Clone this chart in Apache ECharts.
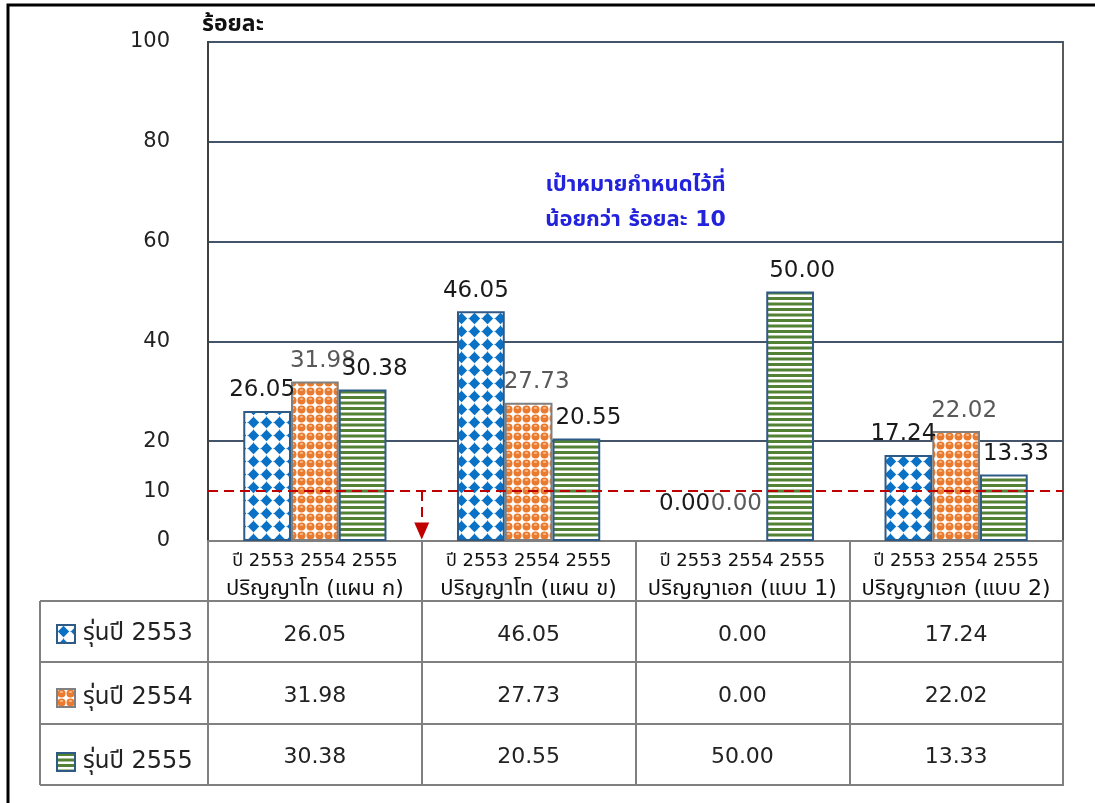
<!DOCTYPE html>
<html>
<head>
<meta charset="utf-8">
<title>ร้อยละ รุ่นปี 2553-2555</title>
<script src="https://cdn.jsdelivr.net/npm/echarts@6.0.0/dist/echarts.min.js"></script>
<style>
  html, body { margin: 0; padding: 0; background: #ffffff; overflow: hidden; }
  #chart { width: 1095px; height: 803px; }
</style>
</head>
<body>
<div id="chart"></div>
<script>
// ---- data ----
const categories = ['ปริญญาโท (แผน ก)', 'ปริญญาโท (แผน ข)', 'ปริญญาเอก (แบบ 1)', 'ปริญญาเอก (แบบ 2)'];
const yearLine = 'ปี 2553 2554 2555';
const seriesNames = ['รุ่นปี 2553', 'รุ่นปี 2554', 'รุ่นปี 2555'];
const values2553 = [26.05, 46.05, 0.00, 17.24];
const values2554 = [31.98, 27.73, 0.00, 22.02];
const values2555 = [30.38, 20.55, 50.00, 13.33];
const yTickLabels = [0, 10, 20, 40, 60, 80, 100];
const targetValue = 10;
const targetNote = ['เป้าหมายกำหนดไว้ที่', 'น้อยกว่า ร้อยละ 10'];
const yAxisTitle = 'ร้อยละ';

// ---- layout ----
const W = 1095, H = 803;
const gridLeft = 208, gridRight = 1063, gridTop = 42, gridBottom = 541;
const headerH = 60, rowH = 61.3;
const tableLeft = 40;
const FONT = "'DejaVu Sans', 'Noto Sans Thai', sans-serif";

// ---- fill patterns ----
function makeTile(w, h, draw) {
  const c = document.createElement('canvas');
  c.width = w; c.height = h;
  const g = c.getContext('2d');
  g.fillStyle = '#ffffff';
  g.fillRect(0, 0, w, h);
  draw(g, w, h);
  return c;
}
const diamondTile = makeTile(13, 13, (g) => {
  g.fillStyle = '#0a72c6';
  g.beginPath();
  g.moveTo(6.5, 0.8);
  g.lineTo(12.2, 6.5);
  g.lineTo(6.5, 12.2);
  g.lineTo(0.8, 6.5);
  g.closePath();
  g.fill();
  g.fillStyle = 'rgba(10,114,198,0.45)';
  g.fillRect(0, 6, 1, 1);
  g.fillRect(6, 0, 1, 1);
});
const ballTile = makeTile(9, 9, (g) => {
  g.fillStyle = '#ea7a2e';
  g.beginPath(); g.arc(4.5, 4.5, 4.0, 0, Math.PI * 2); g.fill();
  g.fillStyle = '#f7b98a';
  g.beginPath(); g.ellipse(4.5, 3.0, 1.8, 1.1, 0, 0, Math.PI * 2); g.fill();
});
const stripeTile = makeTile(4, 11, (g) => {
  g.fillStyle = '#548235';
  g.fillRect(0, 0, 4, 3);
  g.fillRect(0, 5.5, 4, 3);
});
const fills = [
  { image: diamondTile, repeat: 'repeat' },
  { image: ballTile, repeat: 'repeat' },
  { image: stripeTile, repeat: 'repeat' }
];
const borders = ['#2e5a86', '#808080', '#2e5a86'];
const labelColors = ['#1a1a1a', '#595959', '#1a1a1a'];
const labelShift = [-5, 8, 12];
const zeroLabelShift = [-10, -6, 0];
const seriesValues = [values2553, values2554, values2555];

const barSeries = seriesValues.map((vals, i) => ({
  name: seriesNames[i],
  type: 'bar',
  xAxisIndex: 0,
  yAxisIndex: 0,
  barGap: '0%',
  barCategoryGap: '33%',
  data: vals.map(v => v === 0
    ? { value: v, itemStyle: { borderWidth: 0 }, label: { offset: [zeroLabelShift[i], -16] } }
    : v),
  itemStyle: { color: fills[i], borderColor: borders[i], borderWidth: 2 },
  label: {
    show: true,
    position: 'top',
    distance: 9,
    offset: [labelShift[i], 0],
    fontFamily: FONT,
    fontSize: 23,
    color: labelColors[i],
    formatter: p => p.value.toFixed(2)
  },
  z: 3
}));

// table rows below the category axis: one line-less axis per series
const rowAxes = seriesValues.map((vals, i) => ({
  type: 'category',
  gridIndex: 0,
  position: 'bottom',
  offset: headerH + 22 + rowH * i,
  data: vals.map(v => v.toFixed(2)),
  axisLine: { show: false },
  axisTick: { show: false },
  axisLabel: {
    interval: 0, margin: 0, lineHeight: 24,
    fontFamily: FONT, fontSize: 22, color: '#222'
  }
}));

const tableLines = [];
for (let r = 0; r <= 3; r++) {
  const y = Math.round(gridBottom + headerH + rowH * r);
  tableLines.push({
    type: 'line',
    shape: { x1: tableLeft, y1: y, x2: gridRight + 1, y2: y },
    style: { stroke: '#808080', lineWidth: 2 }
  });
}
tableLines.push({
  type: 'line',
  shape: { x1: tableLeft, y1: gridBottom + headerH, x2: tableLeft, y2: Math.round(gridBottom + headerH + rowH * 3) },
  style: { stroke: '#808080', lineWidth: 2 }
});

const chart = echarts.init(document.getElementById('chart'), null, { renderer: 'canvas', width: W, height: H });

chart.setOption({
  animation: false,
  backgroundColor: '#ffffff',
  textStyle: { fontFamily: FONT },
  grid: {
    left: gridLeft, right: W - gridRight, top: gridTop, bottom: H - gridBottom,
    show: true, borderColor: '#595959', borderWidth: 2, containLabel: false
  },
  legend: {
    data: seriesNames,
    orient: 'vertical',
    left: 51,
    top: 617,
    icon: 'rect',
    itemWidth: 18,
    itemHeight: 18,
    itemGap: 40,
    selectedMode: false,
    textStyle: { fontFamily: FONT, fontSize: 24, color: '#222', lineHeight: 18, padding: [0, 0, 0, 3] }
  },
  xAxis: [
    {
      type: 'category',
      gridIndex: 0,
      data: categories,
      axisLine: { show: true, lineStyle: { color: '#808080', width: 2 } },
      axisTick: { show: true, alignWithLabel: false, length: Math.round(headerH + rowH * 3), lineStyle: { color: '#808080', width: 2 } },
      axisLabel: {
        interval: 0,
        margin: 7,
        formatter: v => '{a|' + yearLine + '}\n{b|' + v + '}',
        rich: {
          a: { fontFamily: FONT, fontSize: 18, lineHeight: 27, color: '#111' },
          b: { fontFamily: FONT, fontSize: 22, lineHeight: 29, color: '#111' }
        }
      }
    },
    ...rowAxes,
    { type: 'value', gridIndex: 0, min: 0, max: categories.length, show: false }
  ],
  yAxis: [
    {
      type: 'value',
      min: 0, max: 100, interval: 10,
      name: yAxisTitle,
      nameLocation: 'end',
      nameGap: 5,
      nameTextStyle: { fontFamily: FONT, fontSize: 23, fontWeight: 'bold', color: '#111', align: 'left', padding: [0, 0, 0, -6] },
      axisLine: { show: true, lineStyle: { color: '#404040', width: 2 } },
      axisTick: { show: false },
      splitLine: { show: false },
      axisLabel: {
        margin: 38,
        fontFamily: FONT, fontSize: 21, color: '#222',
        padding: [0, 0, 6, 0],
        formatter: v => yTickLabels.includes(v) ? String(v) : ''
      }
    },
    {
      type: 'value',
      min: 0, max: 100, interval: 20,
      axisLine: { show: false },
      axisTick: { show: false },
      axisLabel: { show: false },
      splitLine: { show: true, lineStyle: { color: '#44546a', width: 2 } }
    }
  ],
  series: [
    ...barSeries,
    {
      name: 'target',
      type: 'line',
      xAxisIndex: 1 + rowAxes.length,
      yAxisIndex: 0,
      data: [],
      silent: true,
      z: 6,
      markLine: {
        silent: true,
        symbol: ['none', 'none'],
        label: { show: false },
        lineStyle: { color: '#c00000', type: [10, 6], width: 2 },
        data: [
          { yAxis: targetValue },
          [
            { coord: [1, targetValue], symbol: 'none' },
            { coord: [1, 2.0], symbol: 'triangle', symbolSize: [15, 17] }
          ]
        ]
      }
    }
  ],
  graphic: [
    {
      type: 'polyline',
      shape: { points: [[8, H + 10], [8, 5], [W + 10, 5]] },
      style: { fill: 'none', stroke: '#000', lineWidth: 3 },
      silent: true
    },
    ...tableLines,
    {
      type: 'text',
      x: (gridLeft + gridRight) / 2, y: 185,
      style: { text: targetNote[0], fontFamily: FONT, fontSize: 22, fontWeight: 'bold', fill: '#2323dc', align: 'center', verticalAlign: 'middle' }
    },
    {
      type: 'text',
      x: (gridLeft + gridRight) / 2, y: 220,
      style: { text: targetNote[1], fontFamily: FONT, fontSize: 22, fontWeight: 'bold', fill: '#2323dc', align: 'center', verticalAlign: 'middle' }
    }
  ]
});
</script>
</body>
</html>
